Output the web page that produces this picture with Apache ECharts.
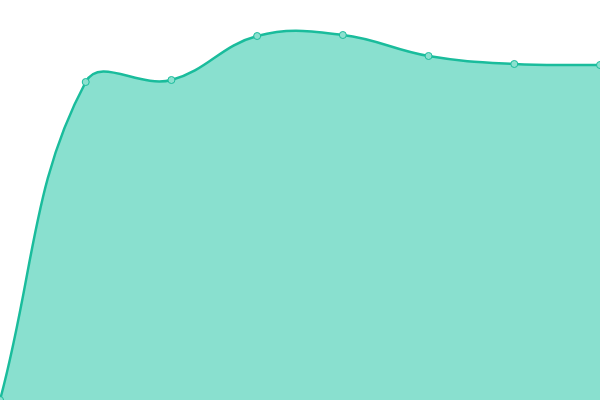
<!DOCTYPE html>
<html><head><meta charset="utf-8">
<script src="https://cdn.jsdelivr.net/npm/echarts@6/dist/echarts.min.js"></script>
<style>html,body{margin:0;padding:0;background:#fff}#c{width:600px;height:400px}</style>
</head><body><div id="c"></div>
<script>
var categories = ['1','2','3','4','5','6','7','8'];
var values = [0, 318, 320, 364, 365, 344, 336, 335];
var tension = 0.4;

function renderCurve(params, api) {
  if (params.dataIndex !== 0) return null;
  var pts = values.map(function (v, i) { return api.coord([i, v]); });
  var n = pts.length;
  var cps = pts.map(function (p, i) {
    var prev = pts[i - 1] || p, next = pts[i + 1] || p;
    var d01 = Math.hypot(p[0] - prev[0], p[1] - prev[1]);
    var d12 = Math.hypot(next[0] - p[0], next[1] - p[1]);
    var s01 = d01 / (d01 + d12), s12 = d12 / (d01 + d12);
    if (isNaN(s01)) s01 = 0;
    if (isNaN(s12)) s12 = 0;
    var fa = tension * s01, fb = tension * s12;
    return {
      prev: [p[0] - fa * (next[0] - prev[0]), p[1] - fa * (next[1] - prev[1])],
      next: [p[0] + fb * (next[0] - prev[0]), p[1] + fb * (next[1] - prev[1])]
    };
  });
  var d = 'M' + pts[0][0] + ' ' + pts[0][1];
  for (var i = 1; i < n; i++) {
    d += ' C' + cps[i - 1].next[0] + ' ' + cps[i - 1].next[1] + ' ' +
         cps[i].prev[0] + ' ' + cps[i].prev[1] + ' ' + pts[i][0] + ' ' + pts[i][1];
  }
  var base = api.coord([0, 0])[1];
  var area = d + ' L' + pts[n - 1][0] + ' ' + base + ' L' + pts[0][0] + ' ' + base + ' Z';
  return {
    type: 'group',
    children: [
      {type: 'path', shape: {pathData: area}, style: {fill: '#89e0cf', stroke: null}},
      {type: 'path', shape: {pathData: d}, style: {fill: null, stroke: '#1abc9c', lineWidth: 2.5}}
    ]
  };
}

var chart = echarts.init(document.getElementById('c'));
chart.setOption({
  animation: false,
  grid: {left: 0, right: 0, top: 0, bottom: 0},
  xAxis: {type: 'category', data: categories, boundaryGap: false, show: false},
  yAxis: {type: 'value', min: 0, max: 400, show: false},
  series: [{
    type: 'custom',
    data: values,
    clip: true,
    renderItem: renderCurve,
    z: 1
  }, {
    type: 'line', data: values,
    symbol: 'circle', symbolSize: 7,
    itemStyle: {color: '#8ce0cf', borderColor: '#1abc9c', borderWidth: 1},
    lineStyle: {width: 0, opacity: 0},
    z: 3
  }]
});
</script></body></html>
